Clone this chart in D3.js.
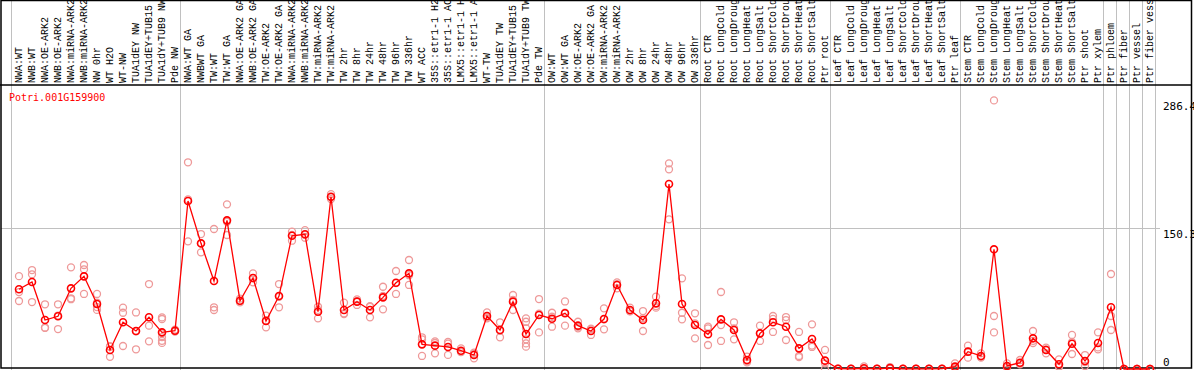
<!DOCTYPE html>
<html><head><meta charset="utf-8">
<script src="https://cdn.jsdelivr.net/npm/d3@7"></script>
<style>body{margin:0;background:#fff}svg{display:block}</style>
</head><body>
<script>
const categories = ["NWA:WT","NWB:WT","NWA:OE-ARK2","NWB:OE-ARK2","NWA:miRNA-ARK2","NWB:miRNA-ARK2","NW 0hr","WT H2O","WT-NW","TUA1dEY NW","TUA1dEY+TUB15 NW","TUA1dY+TUB9 NW","Pde NW",
"NWA:WT GA","NWBWT GA","TW:WT","TW:WT GA","NWA:OE-ARK2 GA","NWB:OE-ARK2 GA","TW:OE-ARK2","TW:OE-ARK2 GA","NWA:miRNA-ARK2","NWB:miRNA-ARK2","TW:miRNA-ARK2","TW:miRNA-ARK2","TW 2hr","TW 8hr","TW 24hr","TW 48hr","TW 96hr","TW 336hr","WT ACC","35S::etr1-1 H2O","35S::etr1-1 ACC","LMX5::etr1-1 H2O","LMX5::etr1-1 ACC","WT-TW","TUA1dEY TW","TUA1dEY+TUB15 TW","TUA1dY+TUB9 TW","Pde TW",
"OW:WT","OW:WT GA","OW:OE-ARK2","OW:OE-ARK2 GA","OW:miRNA-ARK2","OW:miRNA-ARK2","OW 2hr","OW 8hr","OW 24hr","OW 48hr","OW 96hr","OW 336hr",
"Root CTR","Root LongCold","Root LongDrought","Root LongHeat","Root LongSalt","Root ShortCold","Root ShortDrought","Root ShortHeat","Root ShortSalt","Ptr root",
"Leaf CTR","Leaf LongCold","Leaf LongDrought","Leaf LongHeat","Leaf LongSalt","Leaf ShortCold","Leaf ShortDrought","Leaf ShortHeat","Leaf ShortSalt","Ptr leaf",
"Stem CTR","Stem LongCold","Stem LongDrought","Stem LongHeat","Stem LongSalt","Stem ShortCold","Stem ShortDrought","Stem ShortHeat","Stem ShortSalt","Ptr shoot","Ptr xylem",
"Ptr phloem","Ptr fiber","Ptr vessel","Ptr fiber vessel"];

const means = [85,92.8,52.2,56.2,86,98.8,69.3,20.3,49.8,40.5,55.1,39.1,40.8,
179.1,134,93.8,158.5,72.8,97,51.2,77.8,142.1,143.6,61.1,183.7,62.9,71.8,62.9,76.4,92,102,26.3,24.9,23.5,19.5,14.9,56.5,41.6,71.8,37.3,57.6,
53.6,59.4,46.2,40.5,53.3,89.6,62.9,52.2,70,197.2,69.3,46.9,
37,52.9,41.6,9.6,38,49.8,45.1,22,32,8.9,
0.3,0.2,0.8,0.2,1,0.2,0.2,0.2,0.3,2.5,
18.5,13.9,127.6,3.2,6.7,32.7,20.3,5,27,8.5,27.7,
65.8,0,0,0];

const replicates = [[99,82,72.5],[105.5,101,71.4],[69,44,44],[69,42.6,57],[108.4,75.4,74.4],[110.9,106.3,80],[80,70.7,63,66],[24,24,13],[65.4,60,24.5],[60.3,21,40.2],[90.6,46.2,29.5],[55,53.3,38,34,30,27.8],[42,40,40.5],
[220.4,136.1,180.8],[143.9,124.4,133.7],[149.3,65.8,62.9],[175.6,142.9,157],[75,72,71],[102,92.4,97],[56.9,44.4,52],[90.6,65.8,77],[146.4,136.8,143],[148,140,143],[66.4,54,63],[186.5,181.2,183],[70.7,59.4,58.6],[74.3,68.3,72],[66.4,55.1,67],[87.7,63.6,78],[104.5,80,91.5],[116.2,89.6,100],[33.8,31.6,13.9],[29.5,27.7,16.7],[28.8,27,15],[22,18.4,18],[17.4,11.4,16],[60.3,54,55],[49.8,33.8,41],[78.9,62.9,73.6],[54,50.4,43.4,31.6,27.3,23.8],[74.6,39,59],
[60,45.1,55.7],[72,46.2,60],[50.4,43.4,45],[42.3,36.3,43],[64.7,42.3,53],[92.4,86,90.4],[65.4,61.8,61.5],[61.8,40.5,54.3],[77.1,67.1,65.4],[219.3,212.9,159.6],[96.7,60,53],[59.4,32.7,48.6],
[45.1,43.4,25.6],[82.1,29.9,46.8],[49.8,31.6,43.4],[13.1,8.5,7],[46.2,29.9,38],[56.5,39.5,53.4],[55.4,52.2,30.9],[39.5,13.9,12.6],[47.6,25,23.5],[20.3,0,6],
[0.5,0.2,0.2],[0.2,0.2,0.2],[2.8,0,0],[0.2,0.2,0.2],[2.1,0.5,0.4],[0.2,0.2,0.2],[0.2,0.2,0.2],[0.2,0.2,0.2],[0.2,0.2,0.2],[6,1,0.5],
[24.9,12.1,18.5],[16.7,12.1,12.9],[286.4,56.5,39],[6,2,1.6],[9.6,5,5.5],[40.5,27.7,30],[22.8,16.7,21],[10.3,2.8,2],[36.3,16,28.7],[14.9,3.2,7.4],[39.1,21,23],
[101.3,56.5,41.6],[0,0,0],[0,0,0],[0,0,0]];

const groupStarts = [0,13,41,53,63,73,84,85,86,87,88];
const yTicks = [0,150.3,286.4];
const gridTicks = [150.3];
const geneName = "Potri.001G159900";

const W = 1194, H = 370;
const svg = d3.select("body").append("svg").attr("width",W).attr("height",H);

const idx = d3.range(categories.length);
const xb = d3.scaleBand().domain(d3.range(categories.length+1)).range([11, 11+13*(categories.length+1)]).padding(0);
const cx = i => xb(i) + 8;
const y = d3.scaleLinear().domain([0,286.4]).range([369,100.4]);

// separators
svg.append("g").selectAll("line").data(groupStarts).join("line")
  .attr("x1",d=>xb(d)+0.5).attr("x2",d=>xb(d)+0.5).attr("y1",0).attr("y2",H)
  .attr("stroke","#c0c0c0").attr("stroke-width",1);

// horizontal grid
svg.append("g").selectAll("line").data(gridTicks).join("line")
  .attr("x1",1).attr("x2",1160).attr("y1",d=>Math.round(y(d))+0.5).attr("y2",d=>Math.round(y(d))+0.5)
  .attr("stroke","#c0c0c0").attr("stroke-width",1);

// frame
svg.append("rect").attr("x",1).attr("y",0.5).attr("width",1190.5).attr("height",367.5)
  .attr("fill","none").attr("stroke","#000").attr("stroke-width",1.5);
svg.append("line").attr("x1",0).attr("x2",1192).attr("y1",85).attr("y2",85)
  .attr("stroke","#000").attr("stroke-width",1.5);

// column labels
svg.append("g").selectAll("text").data(idx).join("text")
  .attr("transform",i=>`translate(${xb(i)+11},83) rotate(-90)`)
  .attr("text-anchor","start")
  .attr("font-family","Liberation Mono, DejaVu Sans Mono, monospace")
  .attr("font-size","10px").attr("fill","#000")
  .text(i=>categories[i]);

// axis labels (right)
svg.append("g").selectAll("text").data(yTicks).join("text")
  .attr("x",1163).attr("y",d=>Math.min(y(d)+9.5,366))
  .attr("font-family","DejaVu Sans Mono, monospace").attr("font-size","11px").attr("fill","#000")
  .text(d=>d===0?"0":d3.format(".1f")(d));

// title
svg.append("text").attr("x",9).attr("y",101).attr("fill","#ff0000")
  .attr("font-family","DejaVu Sans Mono, monospace").attr("font-size","10px").text(geneName);

// replicates
const repPts = [];
replicates.forEach((arr,i)=>arr.forEach(v=>repPts.push({i,v})));
svg.append("g").selectAll("circle").data(repPts).join("circle")
  .attr("cx",d=>cx(d.i)).attr("cy",d=>y(d.v)).attr("r",3.5)
  .attr("fill","none").attr("stroke","#ee9999").attr("stroke-width",1.3);

// mean line
svg.append("path").datum(idx)
  .attr("d",d3.line().x(i=>cx(i)).y(i=>y(means[i])))
  .attr("fill","none").attr("stroke","#ff0000").attr("stroke-width",1.3);

// mean points
svg.append("g").selectAll("circle").data(idx).join("circle")
  .attr("cx",i=>cx(i)).attr("cy",i=>y(means[i])).attr("r",3.5)
  .attr("fill","none").attr("stroke","#ff0000").attr("stroke-width",1.6);
</script>
</body></html>
